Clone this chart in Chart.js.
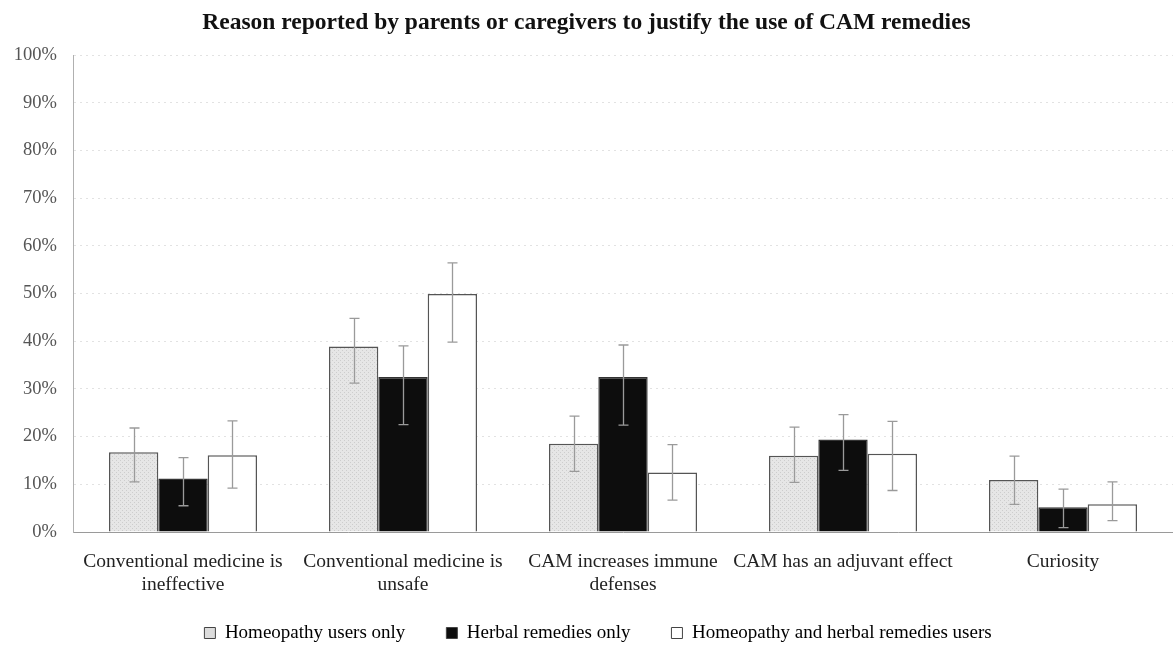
<!DOCTYPE html>
<html>
<head>
<meta charset="utf-8">
<script src="https://cdn.jsdelivr.net/npm/chart.js@4.4.1/dist/chart.umd.min.js"></script>
<style>
  html, body { margin: 0; padding: 0; background: #fff; }
  canvas { display: block; }
</style>
</head>
<body>
<canvas id="chart" width="1173" height="646"></canvas>
<script>
// Reasons given for CAM use, by user group (percent of respondents, with 95% CI)
const categories = [
  ["Conventional medicine is", "ineffective"],
  ["Conventional medicine is", "unsafe"],
  ["CAM increases immune", "defenses"],
  ["CAM has an adjuvant effect"],
  ["Curiosity"]
];
const seriesNames = [
  "Homeopathy users only",
  "Herbal remedies only",
  "Homeopathy and herbal remedies users"
];
const homeopathyOnly = [16.7, 38.9, 18.5, 16.0, 10.9];
const homeopathyLow  = [10.5, 31.2, 12.7, 10.4, 5.8];
const homeopathyHigh = [21.8, 44.8, 24.3, 22.0, 15.9];

const herbalOnly = [11.2, 32.5, 32.5, 19.4, 5.2];
const herbalLow  = [5.5, 22.5, 22.4, 12.9, 0.9];
const herbalHigh = [15.6, 39.0, 39.2, 24.6, 9.0];

const bothUsers = [16.1, 49.9, 12.5, 16.4, 5.8];
const bothLow   = [9.2, 39.8, 6.7, 8.7, 2.4];
const bothHigh  = [23.3, 56.4, 18.3, 23.2, 10.5];

const yTickStep = 10;

// stippled light-grey fill for the homeopathy bars
function stipple() {
  const c = document.createElement('canvas');
  c.width = 4; c.height = 4;
  const g = c.getContext('2d');
  g.fillStyle = '#e6e6e6';
  g.fillRect(0, 0, 4, 4);
  g.fillStyle = '#cdcdcd';
  g.fillRect(0, 0, 1, 1);
  g.fillRect(2, 2, 1, 1);
  return g.createPattern(c, 'repeat');
}
const greyFill = stipple();

// vertical interval whiskers drawn from each dataset's low/high arrays
const intervalPlugin = {
  id: 'intervals',
  afterDatasetsDraw(chart) {
    const ctx = chart.ctx;
    const y = chart.scales.y;
    ctx.save();
    ctx.strokeStyle = '#9a9a9a';
    ctx.lineWidth = 1.3;
    chart.data.datasets.forEach((ds, di) => {
      const meta = chart.getDatasetMeta(di);
      meta.data.forEach((bar, i) => {
        const x = Math.round(bar.x) + 0.5;
        const yl = y.getPixelForValue(ds.low[i]);
        const yh = y.getPixelForValue(ds.high[i]);
        ctx.beginPath();
        ctx.moveTo(x, yl); ctx.lineTo(x, yh);
        ctx.moveTo(x - 5, yh); ctx.lineTo(x + 5, yh);
        ctx.moveTo(x - 5, yl); ctx.lineTo(x + 5, yl);
        ctx.stroke();
      });
    });
    ctx.restore();
  }
};

// legend sits a little lower and right of centre; category labels may
// run down past the compact x-axis box without being clipped
const placement = {
  id: 'placement',
  afterLayout(chart) {
    const lg = chart.legend;
    if (lg) {
      lg.top += 6.5; lg.bottom += 6.5;
      lg.left += 11.5; lg.right += 11.5;
    }
    chart.scales.x.bottom = chart.height;
  }
};

const serif = '"Liberation Serif", "Times New Roman", serif';

new Chart(document.getElementById('chart'), {
  type: 'bar',
  data: {
    labels: categories,
    datasets: [
      { label: seriesNames[0], data: homeopathyOnly, low: homeopathyLow, high: homeopathyHigh,
        backgroundColor: greyFill, borderColor: '#555', borderWidth: 1.5 },
      { label: seriesNames[1], data: herbalOnly, low: herbalLow, high: herbalHigh,
        backgroundColor: '#0d0d0d', borderColor: '#333', borderWidth: 1.5 },
      { label: seriesNames[2], data: bothUsers, low: bothLow, high: bothHigh,
        backgroundColor: '#ffffff', borderColor: '#555', borderWidth: 1.5 }
    ]
  },
  options: {
    responsive: false,
    animation: false,
    devicePixelRatio: 1,
    layout: { padding: { left: 0, right: 0, top: 0, bottom: 0 } },
    datasets: { bar: { categoryPercentage: 0.673, barPercentage: 1.0 } },
    plugins: {
      title: {
        display: true,
        text: 'Reason reported by parents or caregivers to justify the use of CAM remedies',
        color: '#111',
        font: { family: serif, size: 23.5, weight: 'bold', lineHeight: 1.2 },
        padding: { top: 9, bottom: 17.8 }
      },
      legend: {
        position: 'bottom',
        labels: {
          color: '#333',
          font: { family: serif, size: 19 },
          usePointStyle: true,
          pointStyle: 'rect',
          boxWidth: 11,
          boxHeight: 11,
          padding: 41,
          generateLabels(chart) {
            return chart.data.datasets.map((ds, i) => ({
              text: ds.label,
              fillStyle: i === 0 ? '#dcdcdc' : ds.backgroundColor,
              strokeStyle: '#444',
              lineWidth: 1,
              pointStyle: 'rect',
              datasetIndex: i,
              hidden: false
            }));
          }
        }
      },
      tooltip: { enabled: false }
    },
    scales: {
      x: {
        afterFit(scale) { scale.height = 44; },
        grid: { display: false, drawTicks: false },
        border: { display: true, color: '#9a9a9a', width: 1 },
        ticks: {
          color: '#222', font: { family: serif, size: 19.5, lineHeight: 1.18 },
          padding: 18.5, maxRotation: 0, autoSkip: false
        }
      },
      y: {
        min: 0, max: 100,
        afterFit(scale) { scale.width = 73; },
        grid: { color: '#e2e2e2', lineWidth: 1, drawTicks: false },
        border: { display: true, color: '#b0b0b0', width: 1, dash: [2, 4] },
        ticks: {
          stepSize: yTickStep,
          color: '#555', font: { family: serif, size: 18.5 }, padding: 16,
          callback: v => v + '%'
        }
      }
    }
  },
  plugins: [intervalPlugin, placement]
});
</script>
</body>
</html>
